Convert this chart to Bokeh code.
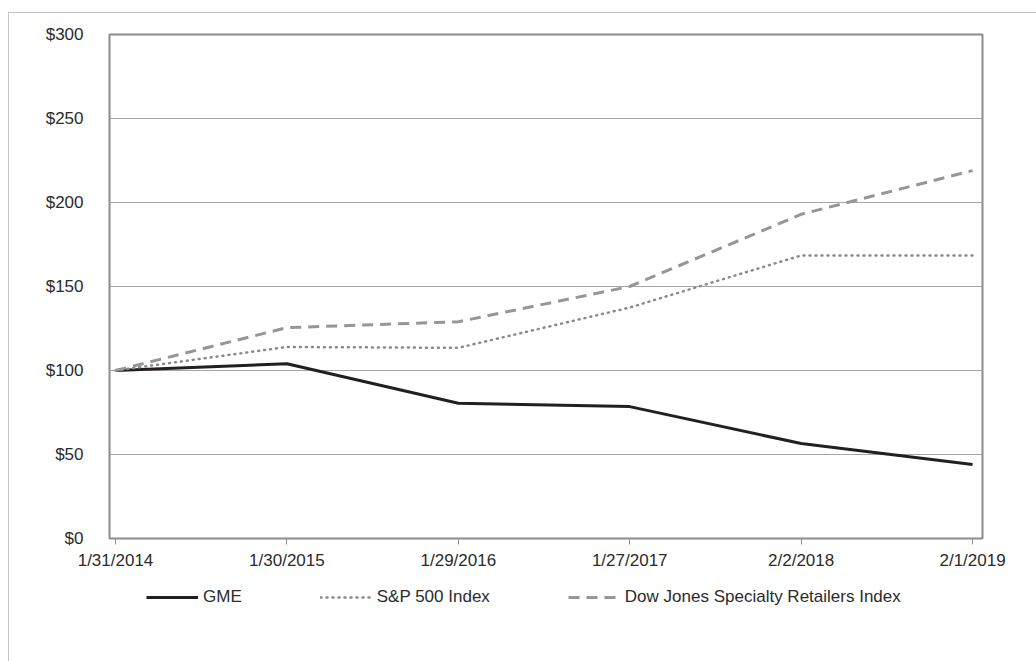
from bokeh.plotting import figure
from bokeh.layouts import column
from bokeh.models import Range1d, FixedTicker, NumeralTickFormatter, Legend, LegendItem
from bokeh.embed import file_html
from bokeh.resources import INLINE

dates = ["1/31/2014", "1/30/2015", "1/29/2016", "1/27/2017", "2/2/2018", "2/1/2019"]
gme = [100, 104, 80.5, 78.5, 56.5, 44]
sp500 = [100, 114, 113.5, 137.5, 168.5, 168.5]
dj_retail = [100, 125.5, 129, 150, 193, 219]
y_ticks = [0, 50, 100, 150, 200, 250, 300]
series_names = ["GME", "S&P 500 Index", "Dow Jones Specialty Retailers Index"]

xs = list(range(len(dates)))
FONT = "Liberation Sans"
TXT = "#2b2b2b"
STYLES = [dict(line_color="#231f20", line_width=3),
          dict(line_color="#8a8a8a", line_width=2.5, line_dash="1 5", line_cap="round"),
          dict(line_color="#969696", line_width=3, line_dash="11 7")]
series = [gme, sp500, dj_retail]

p = figure(width=1027, height=565, output_backend="svg", toolbar_location=None,
           x_range=Range1d(-0.035, 5.058), y_range=Range1d(0, 300),
           min_border_left=100, min_border_right=54, min_border_top=21, min_border_bottom=40)

p.outline_line_color = "#8c8c8c"
p.outline_line_width = 2
p.background_fill_color = "white"
p.border_fill_color = "white"

p.xgrid.visible = False
p.ygrid.grid_line_color = "#a6a6a6"
p.ygrid.grid_line_width = 1
p.ygrid.ticker = FixedTicker(ticks=y_ticks)

p.yaxis.ticker = FixedTicker(ticks=y_ticks)
p.yaxis.formatter = NumeralTickFormatter(format="$0")
p.yaxis.axis_line_color = None
p.yaxis.major_tick_line_color = None
p.yaxis.minor_tick_line_color = None
p.yaxis.major_label_standoff = 20
p.yaxis.major_label_text_font = FONT
p.yaxis.major_label_text_font_size = "17px"
p.yaxis.major_label_text_color = TXT

p.xaxis.ticker = FixedTicker(ticks=xs)
p.xaxis.major_label_overrides = {x: d for x, d in zip(xs, dates)}
p.xaxis.axis_line_color = None
p.xaxis.major_tick_line_color = "#8c8c8c"
p.xaxis.major_tick_line_width = 1
p.xaxis.major_tick_in = 0
p.xaxis.major_tick_out = 6
p.xaxis.minor_tick_line_color = None
p.xaxis.major_label_standoff = 6
p.xaxis.major_label_text_font = FONT
p.xaxis.major_label_text_font_size = "17px"
p.xaxis.major_label_text_color = TXT

for ys, st in zip(series, STYLES):
    p.line(xs, ys, **st)

# legend strip below the chart (its renderers are hidden; only the legend shows)
lf = figure(width=1027, height=85, output_backend="svg", toolbar_location=None,
            x_range=Range1d(-0.035, 5.058), y_range=Range1d(0, 300),
            x_axis_type=None, y_axis_type=None, min_border=0)
lf.grid.visible = False
lf.outline_line_color = None
lf.background_fill_color = "white"
lf.border_fill_color = "white"
items = []
for name, ys, st in zip(series_names, series, STYLES):
    r = lf.line(xs, ys, visible=False, **st)
    items.append(LegendItem(label=name, renderers=[r]))
legend = Legend(items=items, orientation="horizontal", location=(37, 56),
                glyph_width=52, glyph_height=20, label_standoff=5, spacing=78,
                border_line_color=None, background_fill_alpha=0,
                inactive_fill_alpha=0,
                label_text_font=FONT, label_text_font_size="17px", label_text_color=TXT,
                margin=0, padding=4)
lf.add_layout(legend, "center")

layout = column(p, lf, spacing=0)
layout.styles = {"border-top": "1px solid #c4c4c4", "border-left": "1px solid #c4c4c4",
                 "margin-top": "12px", "margin-left": "8px"}

open("out.html", "w").write(file_html(layout, INLINE))
